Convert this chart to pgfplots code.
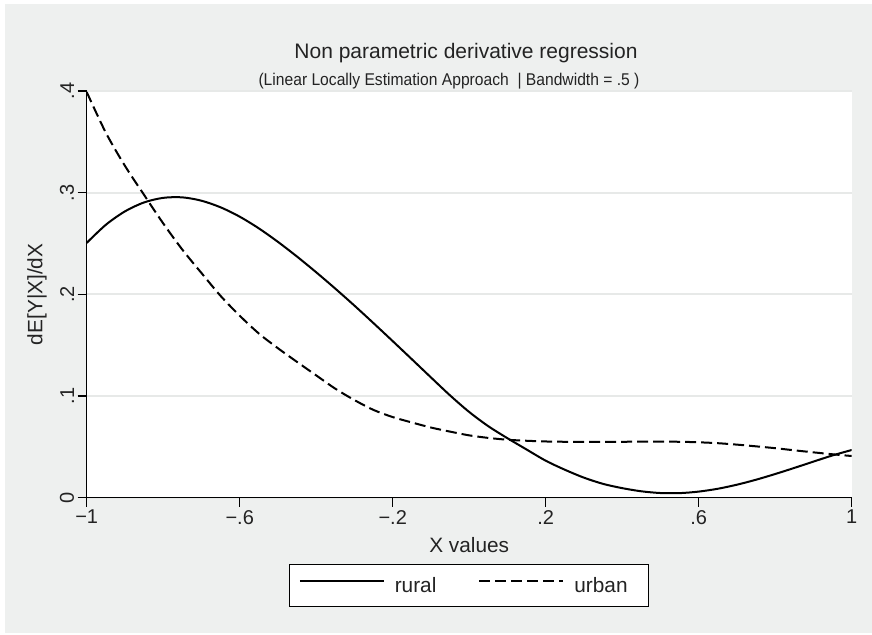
\documentclass[border=0pt]{standalone}
\usepackage{fontspec}
\setmainfont{Liberation Sans}
\newfontfamily\subfont{Liberation Sans}[FakeStretch=0.92]
\usepackage{pgfplots}
\usepackage{pgfplotstable}
\pgfplotsset{compat=1.18}
\definecolor{bggray}{RGB}{238,240,239}
\definecolor{gridgray}{RGB}{231,233,232}
\definecolor{txt}{RGB}{35,35,35}

\pgfplotstableread{
x y
-1.00 0.2506
-0.95 0.2684
-0.90 0.2816
-0.85 0.2904
-0.80 0.2949
-0.75 0.2954
-0.70 0.2921
-0.65 0.2856
-0.60 0.2764
-0.55 0.2649
-0.50 0.2516
-0.45 0.2371
-0.40 0.2217
-0.35 0.2056
-0.30 0.1889
-0.25 0.1716
-0.20 0.1540
-0.15 0.1362
-0.10 0.1183
-0.05 0.1006
0.00 0.0843
0.05 0.0703
0.10 0.0585
0.15 0.0474
0.20 0.0364
0.25 0.0275
0.30 0.0197
0.35 0.0136
0.40 0.0094
0.45 0.0063
0.50 0.0046
0.55 0.0045
0.60 0.0060
0.65 0.0088
0.70 0.0128
0.75 0.0177
0.80 0.0233
0.85 0.0293
0.90 0.0355
0.95 0.0416
1.00 0.0469
}\rural

\pgfplotstableread{
x y
-1.00 0.3990
-0.95 0.3590
-0.90 0.3264
-0.85 0.2978
-0.80 0.2698
-0.75 0.2440
-0.70 0.2210
-0.65 0.1985
-0.60 0.1790
-0.55 0.1615
-0.50 0.1470
-0.45 0.1335
-0.40 0.1203
-0.35 0.1072
-0.30 0.0960
-0.25 0.0863
-0.20 0.0793
-0.15 0.0740
-0.10 0.0690
-0.05 0.0650
0.00 0.0613
0.05 0.0588
0.10 0.0570
0.15 0.0560
0.20 0.0553
0.25 0.0550
0.30 0.0549
0.35 0.0549
0.40 0.0550
0.45 0.0551
0.50 0.0551
0.55 0.0550
0.60 0.0545
0.65 0.0536
0.70 0.0522
0.75 0.0505
0.80 0.0487
0.85 0.0466
0.90 0.0446
0.95 0.0427
1.00 0.0410
}\urban

\begin{document}
\begin{tikzpicture}[x=1pt,y=1pt]
\fill[white] (0,0) rectangle (872,634);
\fill[bggray] (5,1) rectangle (872,630);
\begin{axis}[
  at={(86.7pt,136.3pt)}, anchor=south west,
  scale only axis, width=765pt, height=406.7pt,
  xmin=-1, xmax=1, ymin=0, ymax=0.4,
  axis x line*=bottom, axis y line*=left,
  axis line style={line width=1.2pt, black, -},
  xtick={-1,-0.6,-0.2,0.2,0.6,1},
  xticklabels={−1,−.6,−.2,.2,.6,1},
  ytick={0,0.1,0.2,0.3,0.4},
  yticklabels={0,.1,.2,.3,.4},
  tick align=outside, major tick length=9pt,
  tick style={line width=1.2pt, black},
  ymajorgrids, grid style={gridgray, line width=2pt},
  axis background/.style={fill=white},
  ticklabel style={font=\fontsize{20}{24}\selectfont, text=txt},
  yticklabel style={rotate=90, anchor=south},
  xticklabel style={anchor=north},
  every axis x label/.style={at={(axis description cs:0.5,0)}, yshift=-47.3pt, anchor=center, font=\fontsize{20.8}{25}\selectfont, text=txt},
  every axis y label/.style={at={(axis description cs:0,0.5)}, xshift=-49.7pt, rotate=90, anchor=center, font=\fontsize{20.8}{25}\selectfont, text=txt},
  xlabel={X values},
  ylabel={dE[Y|X]/dX},
  legend columns=2,
  legend image code/.code={\draw[#1] (0pt,5pt) -- (84pt,5pt);},
  legend style={at={(axis description cs:0.5,-0.2159)}, anchor=center,
    draw=black, line width=1.2pt, fill=white,
    font=\fontsize{20.8}{25}\selectfont, text=txt,
    inner xsep=9pt, inner ysep=12.5pt, nodes={inner sep=0pt},
    column sep=0pt,
    /tikz/every odd column/.append style={column sep=10pt},
    /tikz/every even column/.append style={column sep=42pt}},
  legend cell align=left,
]
\addplot[black, line width=2pt, smooth] table {\rural};
\addlegendentry{rural}
\addplot[black, line width=2pt, smooth, dash pattern=on 11pt off 5pt] table {\urban};
\addlegendentry{urban\hspace*{12pt}}
\end{axis}
\node[anchor=base, font=\fontsize{21}{25}\selectfont, text=txt] at (466,575.5) {Non parametric derivative regression};
\node[anchor=base, font=\subfont\fontsize{17}{20}\selectfont, text=txt] at (449,548) {(Linear Locally Estimation Approach\ \ | Bandwidth = .5 )};
\pgfresetboundingbox
\path[use as bounding box] (0,0) rectangle (872,634);
\end{tikzpicture}
\end{document}
